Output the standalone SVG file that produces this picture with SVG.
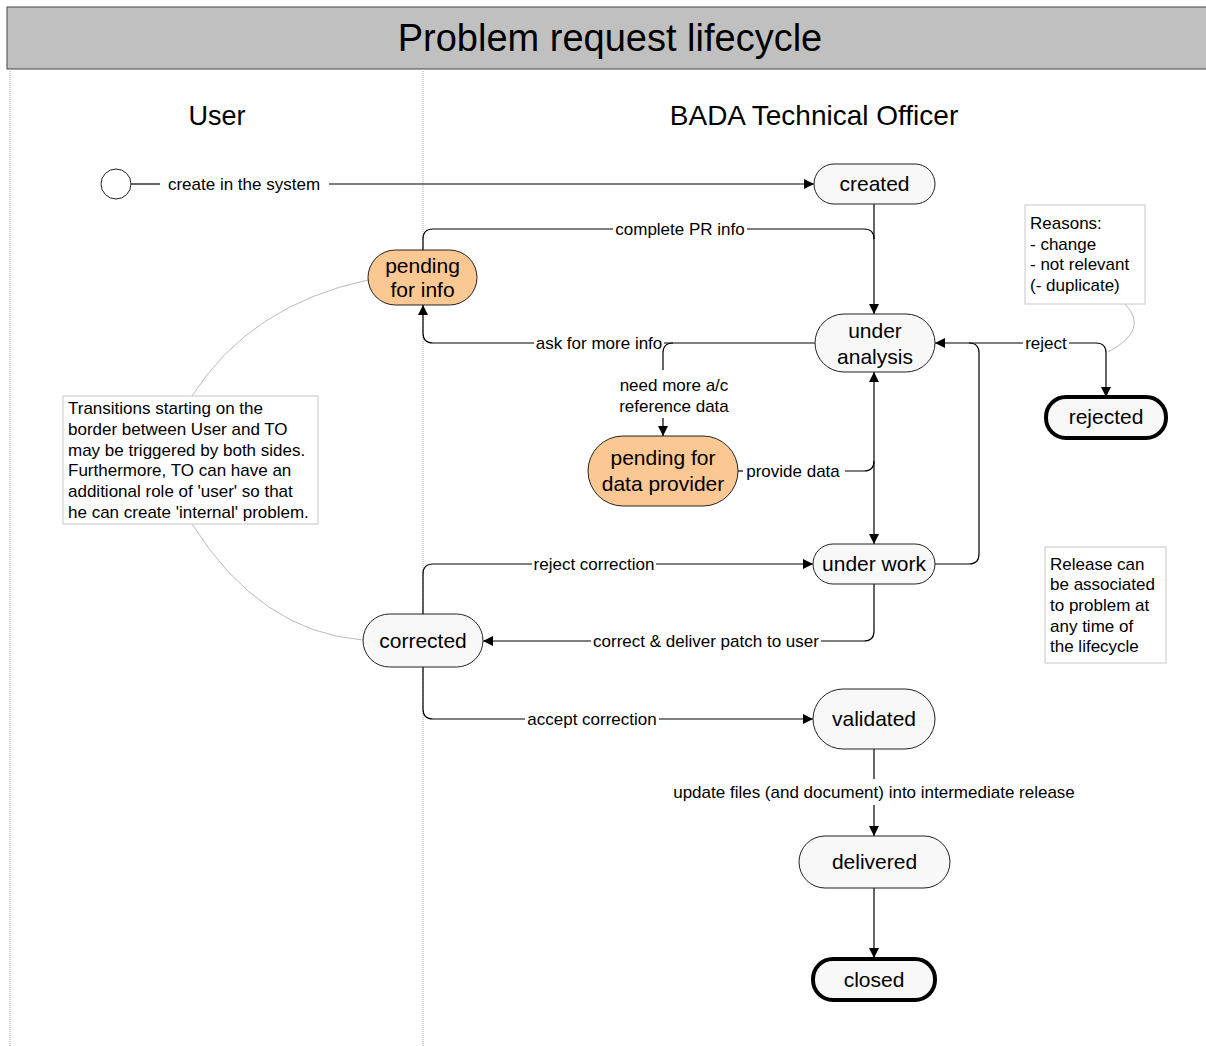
<svg xmlns="http://www.w3.org/2000/svg" width="1206" height="1046" viewBox="0 0 1206 1046">
<style>
text{font-family:"Liberation Sans",Arial,sans-serif;fill:#000}
.node{fill:#f8f8f8;stroke:#222;stroke-width:1}
.pend{fill:#fbc793;stroke:#222;stroke-width:1}
.final{fill:#f8f8f8;stroke:#000;stroke-width:4}
.nt{font-size:21px;text-anchor:middle}
.lbl{font-size:17px;text-anchor:middle}
.note{fill:#fff;stroke:#c8c8c8;stroke-width:1}
.nx{font-size:17px}
.edge{fill:none;stroke:#000;stroke-width:1.2}
.anno{fill:none;stroke:#bbb;stroke-width:1}
.lane{stroke:#aaa;stroke-width:1;stroke-dasharray:1,1}
</style>
<defs>
<marker id="arr" viewBox="0 0 10 10" refX="10" refY="5" markerWidth="10" markerHeight="10" markerUnits="userSpaceOnUse" orient="auto-start-reverse">
<path d="M0,0 L10,5 L0,10 z" fill="#000"/>
</marker>
</defs>
<rect width="1206" height="1046" fill="#fff"/>
<g id="title">
<rect x="7" y="7" width="1205" height="62" fill="#c0c0c0" stroke="#444" stroke-width="1"/>
<text x="610" y="51" font-size="38" text-anchor="middle">Problem request lifecycle</text>
</g>
<g id="lanes">
<line class="lane" x1="10" y1="69" x2="10" y2="1046"/>
<line class="lane" x1="423" y1="69" x2="423" y2="1046"/>
<text x="217" y="125" font-size="27" text-anchor="middle">User</text>
<text x="814" y="125" font-size="28" text-anchor="middle">BADA Technical Officer</text>
</g>
<g id="annotations">
<path class="anno" d="M1125,304 Q1150,330 1108,352"/>
<path class="anno" d="M192,396 Q250,305 368,280"/>
<path class="anno" d="M192,524 Q260,632 363,640"/>
</g>
<g id="connectors">
<path class="edge" d="M131,184 H160"/>
<path class="edge" d="M329,184 H814" marker-end="url(#arr)"/>
<text class="lbl" x="244" y="190">create in the system</text>
<path class="edge" d="M874,204 V314" marker-end="url(#arr)"/>
<path class="edge" d="M423,250 V239 Q423,229 433,229 H613"/>
<path class="edge" d="M747,229 H864 Q874,229 874,239"/>
<text class="lbl" x="680" y="235">complete PR info</text>
<path class="edge" d="M815,343 H664"/>
<path class="edge" d="M534,343 H433 Q423,343 423,333 V305" marker-end="url(#arr)"/>
<text class="lbl" x="599" y="349">ask for more info</text>
<path class="edge" d="M673,343 Q663,343 663,353 V370"/>
<text class="lbl" x="674" y="391">need more a/c</text>
<text class="lbl" x="674" y="412">reference data</text>
<path class="edge" d="M663,418 V436" marker-end="url(#arr)"/>
<path class="edge" d="M738,471 H743"/>
<text class="lbl" x="793" y="477">provide data</text>
<path class="edge" d="M845,471 H864 Q874,471 874,461"/>
<path class="edge" d="M874,544 V372" marker-start="url(#arr)" marker-end="url(#arr)"/>
<path class="edge" d="M935,564 H969 Q979,564 979,554 V353 Q979,343 969,343 H935" marker-end="url(#arr)"/>
<path class="edge" d="M969,343 H1023"/>
<text class="lbl" x="1046" y="349">reject</text>
<path class="edge" d="M1069,343 H1096 Q1106,343 1106,353 V397" marker-end="url(#arr)"/>
<path class="edge" d="M423,614 V574 Q423,564 433,564 H532"/>
<path class="edge" d="M656,564 H813" marker-end="url(#arr)"/>
<text class="lbl" x="594" y="570">reject correction</text>
<path class="edge" d="M874,584 V631 Q874,641 864,641 H821"/>
<path class="edge" d="M591,641 H483" marker-end="url(#arr)"/>
<text class="lbl" x="706" y="647">correct &amp; deliver patch to user</text>
<path class="edge" d="M423,667 V709 Q423,719 433,719 H525"/>
<path class="edge" d="M659,719 H813" marker-end="url(#arr)"/>
<text class="lbl" x="592" y="725">accept correction</text>
<path class="edge" d="M874,749 V779"/>
<text class="lbl" x="874" y="798">update files (and document) into intermediate release</text>
<path class="edge" d="M874,805 V836" marker-end="url(#arr)"/>
<path class="edge" d="M874,888 V958" marker-end="url(#arr)"/>
</g>
<g id="start">
<circle cx="116" cy="184" r="15" fill="#fff" stroke="#222" stroke-width="1"/>
</g>
<g id="created">
<rect class="node" x="814" y="164" width="121" height="40" rx="20"/>
<text class="nt" x="874.5" y="191">created</text>
</g>
<g id="pending-for-info">
<rect class="pend" x="368" y="250" width="109" height="55" rx="27.5"/>
<text class="nt" x="422.5" y="273">pending</text>
<text class="nt" x="422.5" y="297">for info</text>
</g>
<g id="under-analysis">
<rect class="node" x="815" y="314" width="120" height="58" rx="29"/>
<text class="nt" x="875" y="338">under</text>
<text class="nt" x="875" y="364">analysis</text>
</g>
<g id="pending-for-data-provider">
<rect class="pend" x="588" y="436" width="150" height="70" rx="35"/>
<text class="nt" x="663" y="465">pending for</text>
<text class="nt" x="663" y="491">data provider</text>
</g>
<g id="under-work">
<rect class="node" x="813" y="544" width="122" height="40" rx="20"/>
<text class="nt" x="874" y="571">under work</text>
</g>
<g id="rejected">
<rect class="final" x="1046" y="397" width="120" height="41" rx="20"/>
<text class="nt" x="1106" y="424">rejected</text>
</g>
<g id="corrected">
<rect class="node" x="363" y="614" width="120" height="53" rx="26.5"/>
<text class="nt" x="423" y="648">corrected</text>
</g>
<g id="validated">
<rect class="node" x="813" y="689" width="122" height="60" rx="30"/>
<text class="nt" x="874" y="726">validated</text>
</g>
<g id="delivered">
<rect class="node" x="799" y="836" width="151" height="52" rx="26"/>
<text class="nt" x="874.5" y="869">delivered</text>
</g>
<g id="closed">
<rect class="final" x="813" y="959" width="122" height="41" rx="20"/>
<text class="nt" x="874" y="987">closed</text>
</g>
<g id="note-reasons">
<rect class="note" x="1025" y="205" width="120" height="99"/>
<text class="nx" x="1030" y="229">Reasons:</text>
<text class="nx" x="1030" y="250">- change</text>
<text class="nx" x="1030" y="270">- not relevant</text>
<text class="nx" x="1030" y="291">(- duplicate)</text>
</g>
<g id="note-transitions">
<rect class="note" x="63" y="396" width="255" height="128"/>
<text class="nx" x="68" y="414">Transitions starting on the</text>
<text class="nx" x="68" y="435">border between User and TO</text>
<text class="nx" x="68" y="456">may be triggered by both sides.</text>
<text class="nx" x="68" y="476">Furthermore, TO can have an</text>
<text class="nx" x="68" y="497">additional role of 'user' so that</text>
<text class="nx" x="68" y="518">he can create 'internal' problem.</text>
</g>
<g id="note-release">
<rect class="note" x="1045" y="547" width="121" height="116"/>
<text class="nx" x="1050" y="570">Release can</text>
<text class="nx" x="1050" y="590">be associated</text>
<text class="nx" x="1050" y="611">to problem at</text>
<text class="nx" x="1050" y="632">any time of</text>
<text class="nx" x="1050" y="652">the lifecycle</text>
</g>
</svg>
